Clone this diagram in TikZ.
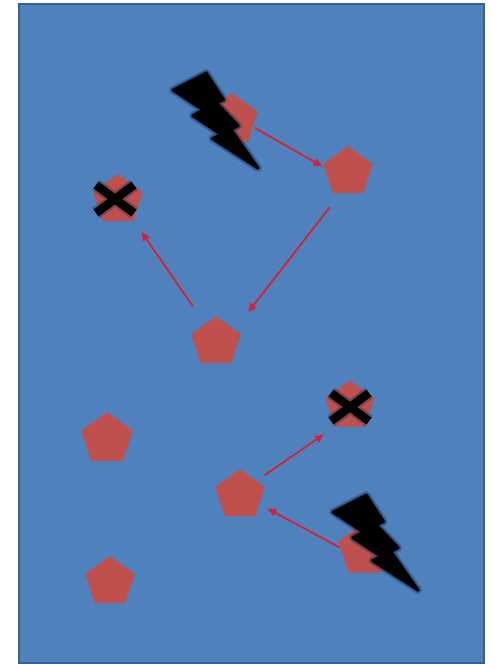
\documentclass[tikz,border=0pt]{standalone}
\usetikzlibrary{shapes.geometric,arrows.meta,calc}
\definecolor{bgblue}{RGB}{79,129,189}
\definecolor{bgedge}{RGB}{58,96,145}
\definecolor{pent}{RGB}{192,80,77}
\definecolor{arr}{RGB}{215,32,52}
\definecolor{glow}{RGB}{28,48,88}
\tikzset{
  pentagon/.style={regular polygon, regular polygon sides=5, minimum size=#1,
    inner sep=0pt, fill=pent, draw=none},
  pentagon/.default=52,
  link/.style={draw=arr, line width=1.8pt, -{Triangle[length=8.5pt,width=7.5pt]}},
  boltshape/.pic={
    \filldraw[black, line width=2.5pt, line join=round,
      preaction={draw=glow, line width=8pt, opacity=0.3, line join=round},
      preaction={draw=glow, line width=5pt, opacity=0.6, line join=round}]
      (33.3,0) -- (50.6,26.7) -- (43.5,29.9) -- (65.2,52.8) -- (58.1,56.6)
      -- (85,95) -- (39.4,65.6) -- (48.1,61.5) -- (19.8,42.7) -- (29.9,36.9)
      -- (0,17.1) -- cycle;
  },
  crossmark/.pic={
    \draw[glow, line width=13pt, opacity=0.35] (-19,-14) -- (19,14) (19,-14) -- (-19,14);
    \draw[black, line width=8.5pt] (-19,-14) -- (19,14) (19,-14) -- (-19,14);
  }
}
\begin{document}
\begin{tikzpicture}[x=1pt,y=-1pt]
\useasboundingbox (0,0) rectangle (495,664);
\fill[white] (0,0) rectangle (495,664);
\draw[fill=bgblue, draw=bgedge, line width=1.5pt] (19,4) rectangle (484,663);

\node[pentagon=54] (A) at (232,120) {};
\node[pentagon] (B) at (348,172) {};
\node[pentagon] (C) at (216,342) {};
\node[pentagon] (D) at (118,200) {};
\node[pentagon=51] (F) at (350,406) {};
\node[pentagon] (E) at (240,495) {};
\node[pentagon=56] (G) at (365,550) {};
\node[pentagon=54] (H) at (107,439) {};
\node[pentagon] (I) at (110,582) {};

\pic at (173,73) {boltshape};
\pic at (333,495) {boltshape};
\pic at ($(D)+(-3,-1)$) {crossmark};
\pic at ($(F)+(0,1)$) {crossmark};

\draw[link, shorten <=2.4pt, shorten >=2.3pt] (A.-18) -- (B.169);
\draw[link, shorten <=18pt, shorten >=22pt] (B.-109) -- (C.34);
\draw[link, shorten <=21pt, shorten >=14pt] (C.121) -- (D.-53);
\draw[link, shorten <=10pt, shorten >=13.6pt] (E.41) -- (F.-126);
\draw[link, shorten <=1pt, shorten >=9.5pt] (G.175) -- (E.-25);
\end{tikzpicture}
\end{document}
